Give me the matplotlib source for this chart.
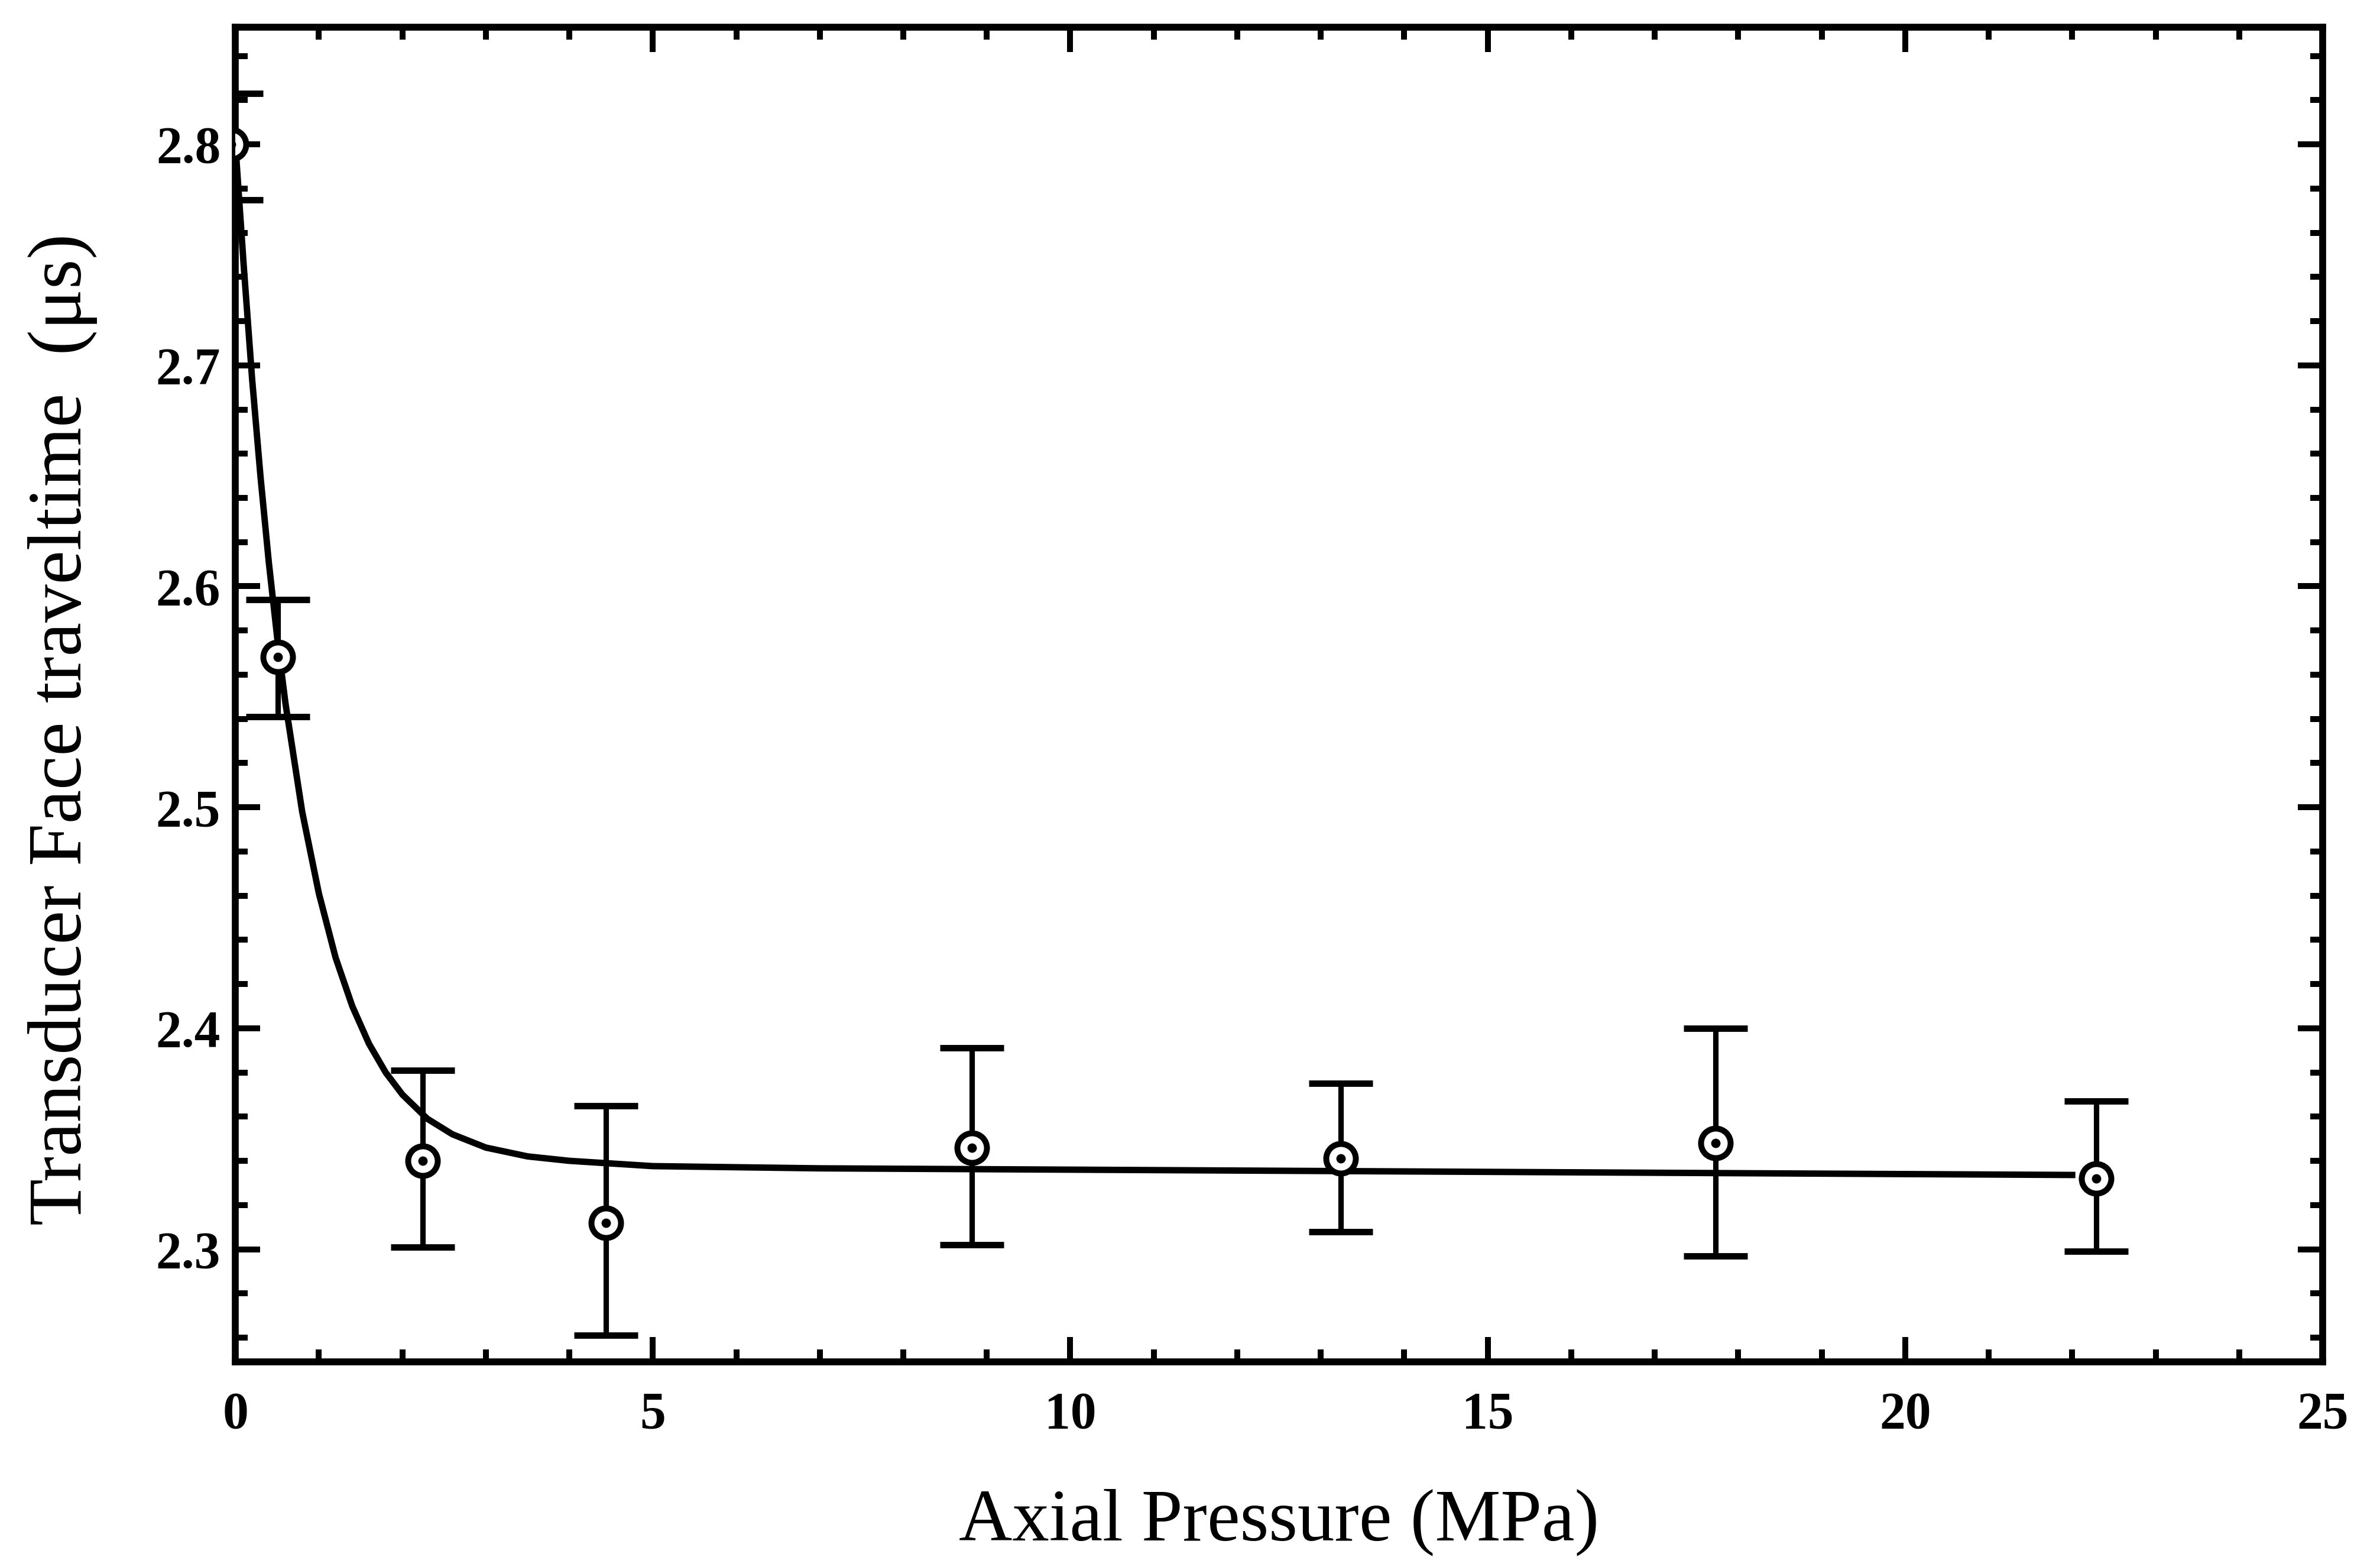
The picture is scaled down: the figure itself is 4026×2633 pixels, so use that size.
import matplotlib
matplotlib.use("Agg")
import matplotlib.pyplot as plt
from matplotlib.ticker import MultipleLocator

# ---- data ----
pressure = [-0.05, 0.51, 2.24, 4.44, 8.82, 13.24, 17.73, 22.29]
traveltime = [2.800, 2.568, 2.340, 2.312, 2.346, 2.341, 2.348, 2.332]
err_low = [2.775, 2.541, 2.301, 2.261, 2.302, 2.308, 2.297, 2.299]
err_high = [2.823, 2.594, 2.381, 2.365, 2.391, 2.375, 2.400, 2.367]

# fitted curve, points
fit_x = [0.0, 0.1, 0.2, 0.3, 0.4, 0.5, 0.6, 0.8, 1.0, 1.2, 1.4, 1.6, 1.8,
         2.0, 2.3, 2.6, 3.0, 3.5, 4.0, 5.0, 7.0, 10.0, 13.0, 16.0, 19.0, 22.0]
fit_y = [2.800, 2.745, 2.694, 2.650, 2.611, 2.577, 2.547, 2.498, 2.461,
         2.432, 2.410, 2.393, 2.380, 2.370, 2.359, 2.352, 2.346, 2.342,
         2.340, 2.3376, 2.3366, 2.336, 2.3354, 2.3348, 2.3342, 2.3336]

xlabel = "Axial Pressure (MPa)"
ylabel = "Transducer Face traveltime  (\u03bcs)"
xticks = [0, 5, 10, 15, 20, 25]
yticks = [2.3, 2.4, 2.5, 2.6, 2.7, 2.8]

plt.rcParams['font.family'] = ['Liberation Serif', 'DejaVu Serif']

fig = plt.figure(figsize=(4026 / 300, 2633 / 300), dpi=300)
ax = fig.add_axes([0.0989, 0.1253, 0.8770, 0.8572])

ax.plot(fit_x, fit_y, color='black', lw=2.6, zorder=2)

yerr = [[t - l for t, l in zip(traveltime, err_low)],
        [h - t for t, h in zip(traveltime, err_high)]]
ax.errorbar(pressure, traveltime, yerr=yerr, fmt='none', ecolor='black',
            elinewidth=2.2, capsize=13, capthick=2.6, zorder=3)
ax.plot(pressure, traveltime, linestyle='none', marker='o', markersize=12,
        markerfacecolor='white', markeredgecolor='black', markeredgewidth=2.4,
        zorder=4)
ax.plot(pressure, traveltime, linestyle='none', marker='o', markersize=2.8,
        color='black', zorder=5)

ax.set_xlim(0, 25)
ax.set_ylim(2.249, 2.853)
ax.set_xticks(xticks)
ax.set_yticks(yticks)
ax.set_xticklabels([str(v) for v in xticks])
ax.set_yticklabels([f"{v:.1f}" for v in yticks])
ax.xaxis.set_minor_locator(MultipleLocator(1))
ax.yaxis.set_minor_locator(MultipleLocator(0.02))

ax.tick_params(which='both', direction='in', top=True, right=True,
               width=2.4, color='black')
ax.tick_params(which='major', length=10, labelsize=21)
ax.tick_params(which='minor', length=5)
ax.tick_params(axis='x', which='major', pad=12)
ax.tick_params(axis='y', which='major', pad=6)
for lab in ax.get_xticklabels() + ax.get_yticklabels():
    lab.set_fontweight('bold')

for s in ax.spines.values():
    s.set_linewidth(2.8)
    s.set_color('black')

ax.set_xlabel(xlabel, fontsize=30)
ax.set_ylabel(ylabel, fontsize=31)
ax.xaxis.set_label_coords(0.5, -0.095)
ax.yaxis.set_label_coords(-0.066, 0.474)

fig.savefig("out.png", dpi=300)
